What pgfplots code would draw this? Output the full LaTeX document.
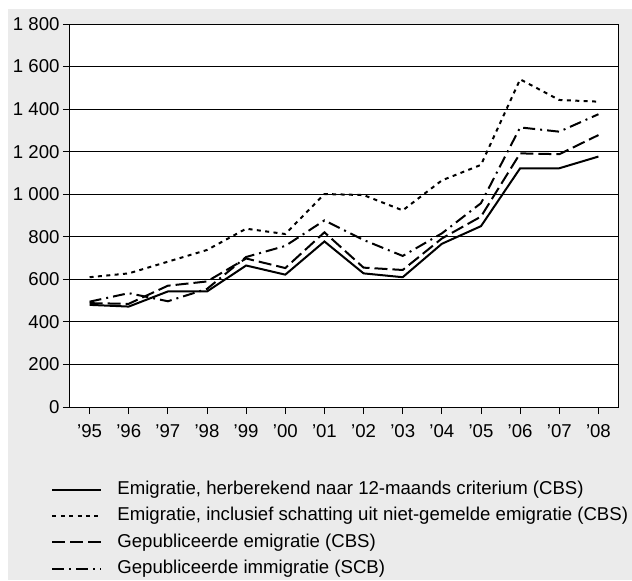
\documentclass[border=0pt]{standalone}
\usepackage{fontspec}
\setmainfont{Liberation Sans}
\usepackage{pgfplots}
\pgfplotsset{compat=1.18}
\definecolor{bg}{RGB}{235,235,235}
\begin{document}
\begin{tikzpicture}[x=1pt,y=1pt]
\useasboundingbox (0,0) rectangle (316,290);
\fill[bg] (4,0) rectangle (316,285.5);
\begin{axis}[
  at={(35pt,86.5pt)}, anchor=south west,
  scale only axis, width=274pt, height=191.5pt,
  font=\fontsize{9.3}{11}\selectfont,
  /pgf/number format/assume math mode=true,
  /pgf/number format/1000 sep={\ },
  axis background/.style={fill=white},
  xmin=-0.5, xmax=13.5, ymin=0, ymax=1800,
  xtick={0,...,13},
  xticklabels={’95,’96,’97,’98,’99,’00,’01,’02,’03,’04,’05,’06,’07,’08},
  ytick={0,200,...,1800},
  tick align=outside, major tick length=3.5pt,
  xtick pos=bottom, ytick pos=left,
  tick style={black, line width=0.5pt},
  ymajorgrids, grid style={black, line width=0.5pt},
  axis line style={line width=0.5pt, black},
  yticklabel style={anchor=east, xshift=1.8pt},
  xticklabel style={anchor=north, yshift=-1.5pt},
  legend cell align=left,
  legend style={draw=none, fill=none, at={(axis description cs:0,0)}, anchor=north west,
    xshift=-9.5pt, yshift=-36.7pt, inner sep=0pt, row sep=4.5pt,
    font=\fontsize{9.3}{11}\selectfont,
    nodes={inner sep=0pt, text height=6.8pt, text depth=1.9pt},
    /tikz/every odd column/.append style={column sep=7.5pt}},
  legend image code/.code={\draw[#1] (0pt,0pt) -- (24.5pt,0pt);},
]
\addplot[black, line width=1pt] coordinates {
(0,480) (1,472) (2,543) (3,543) (4,665) (5,622) (6,778) (7,628) (8,610) (9,767) (10,850) (11,1122) (12,1122) (13,1177)};
\addlegendentry{Emigratie, herberekend naar 12-maands criterium (CBS)}
\addplot[black, line width=1pt, dash pattern=on 2pt off 2.2pt] coordinates {
(0,610) (1,628) (2,683) (3,738) (4,838) (5,813) (6,1001) (7,996) (8,924) (9,1065) (10,1138) (11,1540) (12,1443) (13,1435)};
\addlegendentry{Emigratie, inclusief schatting uit niet-gemelde emigratie (CBS)}
\addplot[black, line width=1pt, dash pattern=on 6.5pt off 2.5pt] coordinates {
(0,488) (1,485) (2,570) (3,590) (4,698) (5,653) (6,821) (7,655) (8,644) (9,792) (10,895) (11,1192) (12,1188) (13,1278)};
\addlegendentry{Gepubliceerde emigratie (CBS)}
\addplot[black, line width=1pt, dash pattern=on 6pt off 2.5pt on 1pt off 2.5pt] coordinates {
(0,495) (1,535) (2,497) (3,555) (4,705) (5,757) (6,877) (7,785) (8,710) (9,816) (10,958) (11,1314) (12,1294) (13,1376)};
\addlegendentry{Gepubliceerde immigratie (SCB)}
\end{axis}
\end{tikzpicture}
\end{document}
